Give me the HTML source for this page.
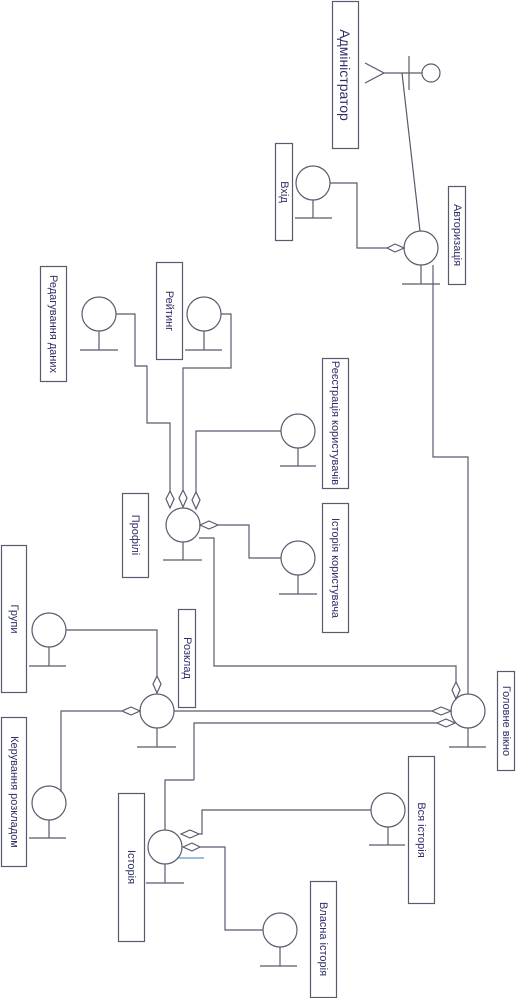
<!DOCTYPE html>
<html><head><meta charset="utf-8"><style>
html,body{margin:0;padding:0;background:#fff;}
svg{display:block;}
text{font-family:"Liberation Sans","DejaVu Sans",sans-serif;font-size:12px;fill:#2e2e66;}
</style></head><body>
<svg width="517" height="998" viewBox="0 0 517 998" xmlns="http://www.w3.org/2000/svg">
<g fill="none" stroke="#5a5a6e" stroke-width="1.2">
<!-- boxes -->
<rect x="332.5" y="1.5" width="26" height="147"/>
<rect x="275.5" y="143.5" width="17" height="97"/>
<rect x="448.5" y="186.5" width="17" height="98"/>
<rect x="40.5" y="266.5" width="26" height="115"/>
<rect x="156.5" y="262.5" width="26" height="97"/>
<rect x="322.5" y="358.5" width="26" height="130"/>
<rect x="122.5" y="493.5" width="26" height="84"/>
<rect x="322.5" y="503.5" width="26" height="129"/>
<rect x="1.5" y="545.5" width="25" height="147"/>
<rect x="178.5" y="609.5" width="17" height="98"/>
<rect x="497.5" y="671.5" width="17" height="99"/>
<rect x="1.5" y="717.5" width="25" height="149"/>
<rect x="118.5" y="793.5" width="26" height="148"/>
<rect x="408.5" y="756.5" width="26" height="147"/>
<rect x="310.5" y="881.5" width="26" height="116"/>

<!-- actor -->
<circle cx="431" cy="73" r="9"/>
<line x1="422" y1="73" x2="384" y2="73"/>
<line x1="409" y1="56" x2="409" y2="90"/>
<line x1="384" y1="73" x2="365" y2="63"/>
<line x1="384" y1="73" x2="365" y2="83"/>
<line x1="402" y1="73" x2="420" y2="231"/>

<!-- objects: circle + stem + ground -->
<circle cx="313" cy="183" r="17"/><line x1="313" y1="200" x2="313" y2="218"/><line x1="295" y1="218" x2="332" y2="218"/>
<circle cx="421" cy="248" r="17"/><line x1="421" y1="265" x2="421" y2="284"/><line x1="402" y1="284" x2="440" y2="284"/>
<circle cx="99" cy="314" r="17"/><line x1="99" y1="331" x2="99" y2="350"/><line x1="80" y1="350" x2="118" y2="350"/>
<circle cx="204" cy="314" r="17"/><line x1="204" y1="331" x2="204" y2="350"/><line x1="185" y1="350" x2="222" y2="350"/>
<circle cx="298" cy="431" r="17"/><line x1="298" y1="448" x2="298" y2="466"/><line x1="280" y1="466" x2="316" y2="466"/>
<circle cx="183" cy="525" r="17"/><line x1="183" y1="542" x2="183" y2="560"/><line x1="163" y1="560" x2="202" y2="560"/>
<circle cx="298" cy="558" r="17"/><line x1="298" y1="575" x2="298" y2="594"/><line x1="279" y1="594" x2="317" y2="594"/>
<circle cx="49" cy="630" r="17"/><line x1="49" y1="647" x2="49" y2="666"/><line x1="29" y1="666" x2="66" y2="666"/>
<circle cx="157" cy="711" r="17"/><line x1="157" y1="728" x2="157" y2="747"/><line x1="137" y1="747" x2="176" y2="747"/>
<circle cx="468" cy="711" r="17"/><line x1="468" y1="728" x2="468" y2="747"/><line x1="449" y1="747" x2="486" y2="747"/>
<circle cx="49" cy="803" r="17"/><line x1="49" y1="820" x2="49" y2="838"/><line x1="29" y1="838" x2="66" y2="838"/>
<circle cx="165" cy="847" r="17"/><line x1="165" y1="864" x2="165" y2="883"/><line x1="146" y1="883" x2="184" y2="883"/>
<circle cx="388" cy="810" r="17"/><line x1="388" y1="827" x2="388" y2="845"/><line x1="369" y1="845" x2="405" y2="845"/>
<circle cx="280" cy="930" r="17"/><line x1="280" y1="947" x2="280" y2="966"/><line x1="260" y1="966" x2="297" y2="966"/>

<!-- connectors -->
<polyline points="330,183 357,183 357,248 387,248"/>
<polygon points="387,248 395,244 404,248 395,252"/>
<polyline points="433,265 433,457 468,457 468,694"/>
<polyline points="116,314 135,314 135,366 147,366 147,423 170,423 170,491"/>
<polyline points="221,314 231,314 231,368 183,368 183,490"/>
<polyline points="281,431 196,431 196,492"/>
<polygon points="170,491 166,499 170,508 174,499"/>
<polygon points="183,490 179,498 183,507 187,498"/>
<polygon points="196,492 192,500 196,509 200,500"/>
<polygon points="200,525 209,521 218,525 209,529"/>
<polyline points="218,525 249,525 249,558 281,558"/>
<polyline points="199,538 214,538 214,666 456,666 456,682"/>
<polygon points="456,682 452,690 456,699 460,690"/>
<polyline points="174,711 432,711"/>
<polygon points="432,711 441,707 451,711 441,715"/>
<polyline points="194,780 194,723 437,723"/>
<polygon points="437,723 446,719 455,723 446,727"/>
<polyline points="194,780 165,780 165,830"/>
<polyline points="66,630 157,630 157,676"/>
<polygon points="157,676 153,684 157,693 161,684"/>
<polyline points="122,711 61,711 61,792"/>
<polygon points="122,711 131,707 140,711 131,715"/>
<polygon points="181,834 190,830 199,834 190,838"/>
<polyline points="199,834 202,834 202,810 371,810"/>
<polygon points="183,847 192,843 200,847 192,851"/>
<polyline points="200,847 225,847 225,930 263,930"/>
</g>
<line x1="178" y1="858" x2="204" y2="858" stroke="#3a7ab8" stroke-width="1"/>

<!-- labels -->
<g>
<text transform="translate(345,75) rotate(90)" text-anchor="middle" dominant-baseline="central" style="font-size:14px">Адміністратор</text>
<text transform="translate(284,192) rotate(90)" text-anchor="middle" dominant-baseline="central" style="font-size:11px">Вхід</text>
<text transform="translate(457,235) rotate(90)" text-anchor="middle" dominant-baseline="central" style="font-size:11px">Авторизація</text>
<text transform="translate(53,324) rotate(90)" text-anchor="middle" dominant-baseline="central" style="font-size:11px">Редагування даних</text>
<text transform="translate(169,311) rotate(90)" text-anchor="middle" dominant-baseline="central" style="font-size:11px">Рейтинг</text>
<text transform="translate(335,423) rotate(90)" text-anchor="middle" dominant-baseline="central" style="font-size:11px">Реєстрація користувачів</text>
<text transform="translate(135,535) rotate(90)" text-anchor="middle" dominant-baseline="central" style="font-size:11px">Профілі</text>
<text transform="translate(335,568) rotate(90)" text-anchor="middle" dominant-baseline="central" style="font-size:11px">Історія користувача</text>
<text transform="translate(14,619) rotate(90)" text-anchor="middle" dominant-baseline="central" style="font-size:11px">Групи</text>
<text transform="translate(187,658) rotate(90)" text-anchor="middle" dominant-baseline="central" style="font-size:11px">Розклад</text>
<text transform="translate(506,721) rotate(90)" text-anchor="middle" dominant-baseline="central" style="font-size:11px">Головне вікно</text>
<text transform="translate(14,792) rotate(90)" text-anchor="middle" dominant-baseline="central" style="font-size:11px">Керування розкладом</text>
<text transform="translate(131,867) rotate(90)" text-anchor="middle" dominant-baseline="central" style="font-size:11px">Історія</text>
<text transform="translate(421,830) rotate(90)" text-anchor="middle" dominant-baseline="central" style="font-size:11px">Вся історія</text>
<text transform="translate(323,939) rotate(90)" text-anchor="middle" dominant-baseline="central" style="font-size:11px">Власна історія</text>
</g>
</svg>
</body></html>
